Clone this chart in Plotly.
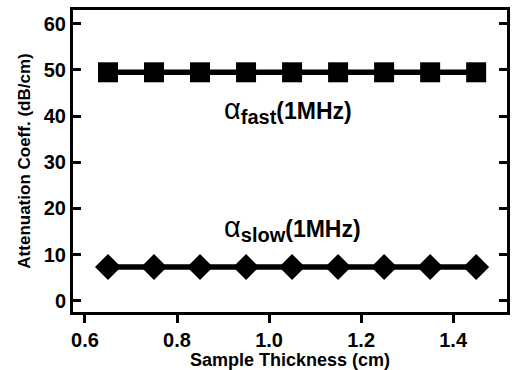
import plotly.graph_objects as go

thickness = [0.65, 0.75, 0.85, 0.95, 1.05, 1.15, 1.25, 1.35, 1.45]
alpha_fast = [49.5, 49.5, 49.5, 49.5, 49.5, 49.5, 49.5, 49.5, 49.5]
alpha_slow = [7.3, 7.3, 7.3, 7.3, 7.3, 7.3, 7.3, 7.3, 7.3]

x_ticks = [0.6, 0.8, 1.0, 1.2, 1.4]
x_tick_text = ["0.6", "0.8", "1.0", "1.2", "1.4"]
y_ticks = [0, 10, 20, 30, 40, 50, 60]

FONT = "Liberation Sans, Arial, Helvetica, sans-serif"

fig = go.Figure()
fig.add_trace(go.Scatter(
    x=thickness, y=alpha_fast, mode="lines+markers",
    line=dict(color="black", width=5.5),
    marker=dict(symbol="square", size=20, color="black"),
    showlegend=False))
fig.add_trace(go.Scatter(
    x=thickness, y=alpha_slow, mode="lines+markers",
    line=dict(color="black", width=5.5),
    marker=dict(symbol="diamond", size=20, color="black"),
    showlegend=False))

def label(sub):
    return ("<span style='font-size:29px;font-weight:normal'>α</span>"
            "<sub><span style='font-size:20px'>" + sub + "</span></sub>(1MHz)")

fig.add_annotation(x=1.042, y=41.2, text=label("fast"), showarrow=False,
                   xanchor="center", yanchor="middle",
                   font=dict(family=FONT, size=23, color="black", weight="bold"))
fig.add_annotation(x=1.05, y=15.6, text=label("slow"), showarrow=False,
                   xanchor="center", yanchor="middle",
                   font=dict(family=FONT, size=23, color="black", weight="bold"))

fig.update_layout(
    width=515, height=370,
    margin=dict(l=73, r=5, t=10, b=57),
    paper_bgcolor="white", plot_bgcolor="white",
    font=dict(family=FONT, color="black"),
    xaxis=dict(
        range=[0.574, 1.517], tickvals=x_ticks, ticktext=x_tick_text,
        ticks="outside", ticklen=8, tickwidth=3, tickcolor="black",
        showline=True, linewidth=3, linecolor="black", mirror=True,
        showgrid=False, zeroline=False,
        tickfont=dict(family=FONT, size=20, color="black", weight="bold"),
        title=dict(text="<b>Sample Thickness (cm)</b>", standoff=1,
                   font=dict(family=FONT, size=18, color="black")),
    ),
    yaxis=dict(
        range=[-2.44, 63.0], tickvals=y_ticks,
        ticks="inside", ticklen=8, tickwidth=3, tickcolor="black",
        showline=True, linewidth=3, linecolor="black", mirror="ticks",
        showgrid=False, zeroline=False,
        tickfont=dict(family=FONT, size=20, color="black", weight="bold"),
        title=dict(text="<b>Attenuation Coeff. (dB/cm)</b>", standoff=9,
                   font=dict(family=FONT, size=17, color="black")),
    ),
)

fig.write_html("out.html")
